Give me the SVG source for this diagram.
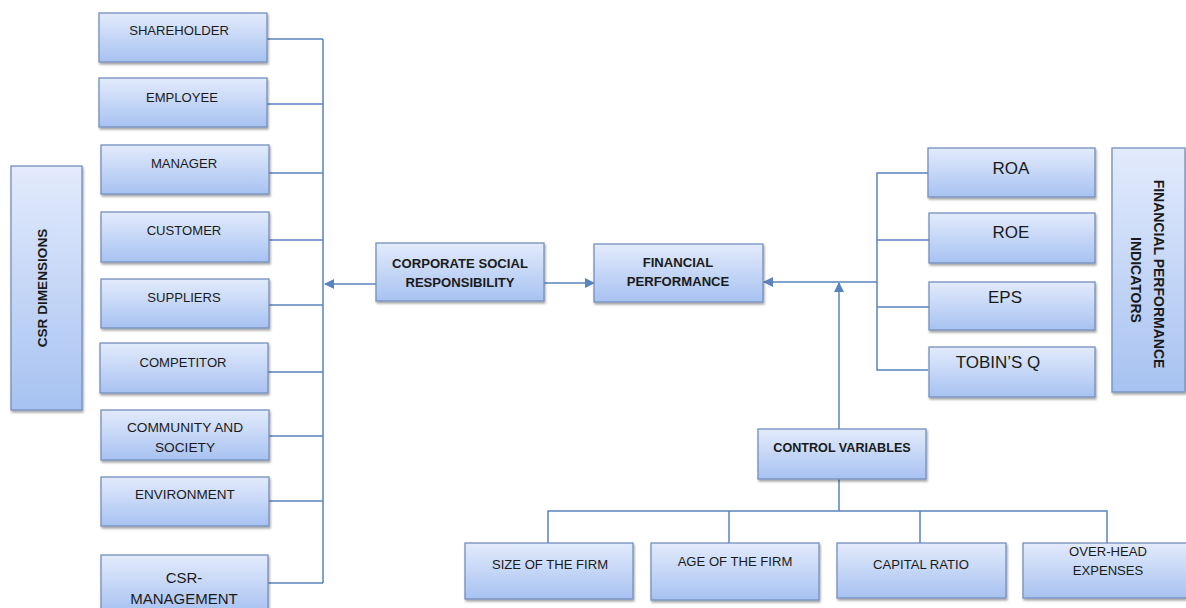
<svg xmlns="http://www.w3.org/2000/svg" width="1186" height="608" viewBox="0 0 1186 608">
  <defs>
    <linearGradient id="boxGrad" x1="0" y1="0" x2="0" y2="1">
      <stop offset="0" stop-color="#e3ebfc"/>
      <stop offset="1" stop-color="#a7c2f1"/>
    </linearGradient>
    <filter id="shadow" x="-10%" y="-10%" width="130%" height="140%">
      <feDropShadow dx="1" dy="2" stdDeviation="1.2" flood-color="#000" flood-opacity="0.35"/>
    </filter>
    <marker id="arrow" viewBox="0 0 10 10" refX="9" refY="5" markerWidth="10" markerHeight="10" markerUnits="userSpaceOnUse" orient="auto">
      <path d="M0,0 L10,5 L0,10 z" fill="#5a84bd"/>
    </marker>
  </defs>
  <style>
    .box { fill: url(#boxGrad); stroke: #7590bd; stroke-width: 1.3; filter: url(#shadow); }
    .t { font-family: "Liberation Sans", Arial, sans-serif; font-size: 13.1px; fill: #1a1a1a; text-anchor: middle; }
    .b { font-weight: bold; }
    .big { font-size: 17px; }
    .conn { fill: none; stroke: #5a84bd; stroke-width: 1.5; }
  </style>

  <rect width="1186" height="608" fill="#ffffff"/>

  <!-- connectors -->
  <g id="connectors">
    <path class="conn" d="M267,39 H323 M267,104 H323 M269,173 H323 M265,240 H323 M269,305 H323 M268,372 H323 M269,436 H323 M269,501 H323 M268,583 H323 M323,39 V583"/>
    <line class="conn" x1="376" y1="284" x2="325" y2="284" marker-end="url(#arrow)"/>
    <line class="conn" x1="544" y1="283" x2="594" y2="283" marker-end="url(#arrow)"/>
    <line class="conn" x1="877" y1="282" x2="764" y2="282" marker-end="url(#arrow)"/>
    <line class="conn" x1="839" y1="429" x2="839" y2="283" marker-end="url(#arrow)"/>
    <path class="conn" d="M928,173 H877 V370 H928 M929,240 H877 M929,307 H877"/>
    <path class="conn" d="M839,479 V511 M548,543 V511 H1107 V543 M729,511 V543 M920,511 V543"/>
  </g>

  <!-- left column -->
  <g id="csr-dimensions">
    <rect class="box" x="11" y="166" width="71" height="244"/>
    <text class="t b" transform="translate(47,288) rotate(-90)" style="font-size:13.6px">CSR DIMENSIONS</text>
  </g>
  <g id="shareholder">
    <rect class="box" x="99" y="13" width="168" height="49"/>
    <text class="t" x="179" y="35">SHAREHOLDER</text>
  </g>
  <g id="employee">
    <rect class="box" x="99" y="78" width="168" height="49"/>
    <text class="t" x="182" y="101.5">EMPLOYEE</text>
  </g>
  <g id="manager">
    <rect class="box" x="101" y="145" width="168" height="49"/>
    <text class="t" x="184" y="168">MANAGER</text>
  </g>
  <g id="customer">
    <rect class="box" x="101" y="212" width="168" height="50"/>
    <text class="t" x="184" y="235">CUSTOMER</text>
  </g>
  <g id="suppliers">
    <rect class="box" x="101" y="279" width="168" height="49"/>
    <text class="t" x="184" y="302">SUPPLIERS</text>
  </g>
  <g id="competitor">
    <rect class="box" x="100" y="343" width="168" height="50"/>
    <text class="t" x="183" y="367">COMPETITOR</text>
  </g>
  <g id="community">
    <rect class="box" x="101" y="410" width="168" height="50"/>
    <text class="t" x="185" y="432" style="font-size:13.7px">COMMUNITY AND</text>
    <text class="t" x="185" y="452" style="font-size:13.7px">SOCIETY</text>
  </g>
  <g id="environment">
    <rect class="box" x="101" y="477" width="168" height="49"/>
    <text class="t" x="185" y="499" style="font-size:13.5px">ENVIRONMENT</text>
  </g>
  <g id="csr-management">
    <rect class="box" x="101" y="555" width="167" height="58"/>
    <text class="t" x="184" y="583" style="font-size:15px">CSR-</text>
    <text class="t" x="184" y="604" style="font-size:15px">MANAGEMENT</text>
  </g>

  <!-- center -->
  <g id="csr">
    <rect class="box" x="376" y="243" width="168" height="58"/>
    <text class="t b" x="460" y="268">CORPORATE SOCIAL</text>
    <text class="t b" x="460" y="287">RESPONSIBILITY</text>
  </g>
  <g id="financial-performance">
    <rect class="box" x="594" y="244" width="169" height="58"/>
    <text class="t b" x="678" y="267">FINANCIAL</text>
    <text class="t b" x="678" y="286">PERFORMANCE</text>
  </g>

  <!-- right column -->
  <g id="roa">
    <rect class="box" x="928" y="148" width="167" height="49"/>
    <text class="t big" x="1011" y="174">ROA</text>
  </g>
  <g id="roe">
    <rect class="box" x="929" y="213" width="166" height="50"/>
    <text class="t big" x="1011" y="238">ROE</text>
  </g>
  <g id="eps">
    <rect class="box" x="929" y="282" width="166" height="48"/>
    <text class="t big" x="1005" y="303">EPS</text>
  </g>
  <g id="tobins-q">
    <rect class="box" x="929" y="347" width="166" height="50"/>
    <text class="t big" x="998" y="368">TOBIN’S Q</text>
  </g>
  <g id="fp-indicators">
    <rect class="box" x="1112" y="148" width="73" height="244"/>
    <text class="t b" transform="translate(1154,274) rotate(90)" style="font-size:14px">FINANCIAL PERFORMANCE</text>
    <text class="t b" transform="translate(1131,280) rotate(90)" style="font-size:14px">INDICATORS</text>
  </g>

  <!-- control variables -->
  <g id="control-variables">
    <rect class="box" x="758" y="429" width="168" height="50"/>
    <text class="t b" x="842" y="452" style="font-size:12.6px">CONTROL VARIABLES</text>
  </g>
  <g id="size-firm">
    <rect class="box" x="465" y="543" width="168" height="56"/>
    <text class="t" x="550" y="569">SIZE OF THE FIRM</text>
  </g>
  <g id="age-firm">
    <rect class="box" x="651" y="543" width="168" height="57"/>
    <text class="t" x="735" y="566">AGE OF THE FIRM</text>
  </g>
  <g id="capital-ratio">
    <rect class="box" x="837" y="543" width="169" height="55"/>
    <text class="t" x="921" y="569">CAPITAL RATIO</text>
  </g>
  <g id="overhead">
    <rect class="box" x="1023" y="543" width="170" height="55"/>
    <text class="t" x="1108" y="556">OVER-HEAD</text>
    <text class="t" x="1108" y="575">EXPENSES</text>
  </g>
</svg>
